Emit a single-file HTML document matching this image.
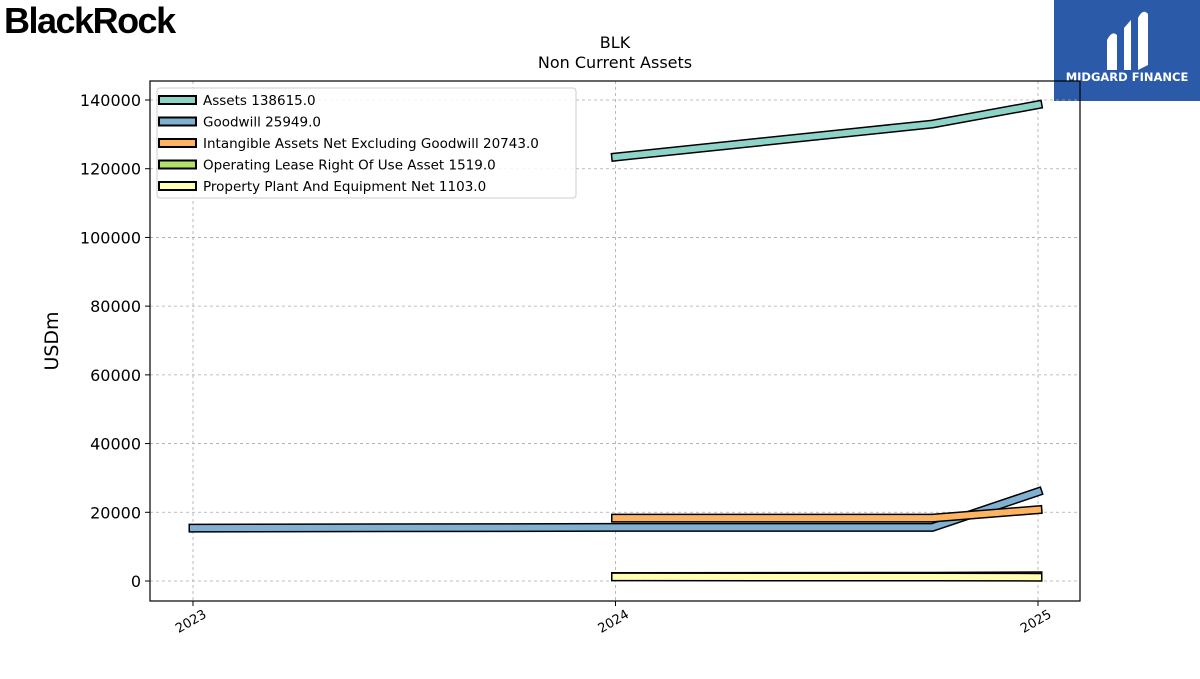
<!DOCTYPE html>
<html><head><meta charset="utf-8"><style>
body{margin:0;background:#fff;width:1200px;height:675px;overflow:hidden;font-family:"DejaVu Sans","Liberation Sans",sans-serif;}
</style></head><body>
<svg width="1200" height="675" xmlns="http://www.w3.org/2000/svg" font-family="DejaVu Sans, Liberation Sans, sans-serif">
<text x="4" y="33" font-family="Liberation Sans, sans-serif" font-weight="bold" font-size="36" letter-spacing="-1.5">BlackRock</text>
<g>
<rect x="1054" y="0" width="146" height="101" fill="#2b5aa8"/>
<path d="M1107 70 L1107 40 Q1112 30 1117 35 L1117 70 Z M1124 70 L1124 28 L1131 20 L1131 70 Z M1138 70 L1138 18 Q1143 8 1148 14 L1148 65 Z" fill="#fff"/>
<text x="1127" y="81" text-anchor="middle" fill="#fff" font-size="11.5" font-weight="bold">MIDGARD FINANCE</text>
</g>
<text x="615" y="48" text-anchor="middle" font-size="16">BLK</text>
<text x="615" y="68" text-anchor="middle" font-size="16">Non Current  Assets</text>
<g id="grid"></g>
<g id="series"></g>
<rect x="150" y="81" width="930" height="520" fill="none" stroke="#000" stroke-width="1.2"/>
<g id="axes"></g>
<text transform="translate(58,341) rotate(-90)" text-anchor="middle" font-size="19">USDm</text>
<g id="legend"></g>
</svg>
<script>
const xTicks=[2023,2024,2025];
const yTicks=[0,20000,40000,60000,80000,100000,120000,140000];
const seriesNames=["Assets","Goodwill","Intangible Assets Net Excluding Goodwill","Operating Lease Right Of Use Asset","Property Plant And Equipment Net"];
const seriesColors=["#8dd3c7","#80b1d3","#fdb462","#b3de69","#ffffb3"];
const seriesLatest=["138615.0","25949.0","20743.0","1519.0","1103.0"];
const assetsX=[2024,2024.75,2025];
const assetsY=[123400,133000,138615];
const goodwillX=[2023,2024,2024.75,2025];
const goodwillY=[15400,15600,15600,25949];
const intangibleX=[2024,2024.75,2025];
const intangibleY=[18300,18300,20743];
const leaseX=[2024,2024.75,2025];
const leaseY=[1300,1400,1519];
const ppeX=[2024,2024.75,2025];
const ppeY=[1200,1150,1103];
const ns="http://www.w3.org/2000/svg";
const xs=v=>193+(v-2023)*422.5;
const ys=v=>581-v*(481/140000);
function mk(t,a,p){const e=document.createElementNS(ns,t);for(const k in a)e.setAttribute(k,a[k]);p.appendChild(e);return e;}
const grid=document.getElementById('grid'),axes=document.getElementById('axes');
xTicks.forEach(t=>{
 const g=mk('line',{x1:xs(t),x2:xs(t),y1:81,y2:601,stroke:'#aaa','stroke-dasharray':'3,3','stroke-width':0.8},grid);
 
 
 mk('line',{x1:xs(t),x2:xs(t),y1:601,y2:606,stroke:'#000'},axes);
 const l=mk('text',{x:xs(t),y:625,'font-size':13,'text-anchor':'middle',transform:`rotate(-30 ${xs(t)} 625)`},axes);
 l.textContent=t;
 
 
});
yTicks.forEach(t=>{
 const g=mk('line',{x1:150,x2:1080,y1:ys(t),y2:ys(t),stroke:'#aaa','stroke-dasharray':'3,3','stroke-width':0.8},grid);
 
 
 mk('line',{x1:145,x2:150,y1:ys(t),y2:ys(t),stroke:'#000'},axes);
 const l=mk('text',{x:141,y:ys(t)+6,'font-size':16,'text-anchor':'end'},axes);
 l.textContent=t;
 
 
});
const sg=document.getElementById('series');
const data=[[assetsX,assetsY],[goodwillX,goodwillY],[intangibleX,intangibleY],[leaseX,leaseY],[ppeX,ppeY]];
data.forEach((d,i)=>{
 const pts=d[0].map((x,j)=>xs(x)+','+ys(d[1][j])).join(' ');
 const g=mk('g',{},sg);
 
 
 mk('polyline',{points:pts,fill:'none',stroke:'#000','stroke-width':9,'stroke-linecap':'square','stroke-linejoin':'miter'},g);
 mk('polyline',{points:pts,fill:'none',stroke:seriesColors[i],'stroke-width':6,'stroke-linecap':'square','stroke-linejoin':'miter'},g);
});
const lg=document.getElementById('legend');
const box=mk('rect',{x:157,y:88,width:419,height:110,rx:3,fill:'#fff','fill-opacity':0.85,stroke:'#ccc'},lg);


seriesNames.forEach((n,i)=>{
 const y=100+i*21.5;
 const e=mk('g',{},lg);
 
 
 mk('rect',{x:159,y:y-4,width:37,height:8,fill:seriesColors[i],stroke:'#000','stroke-width':2},e);
 const t=mk('text',{x:203,y:y+5,'font-size':13.5},e);
 t.textContent=n+'  '+seriesLatest[i];
});
</script>
</body></html>
